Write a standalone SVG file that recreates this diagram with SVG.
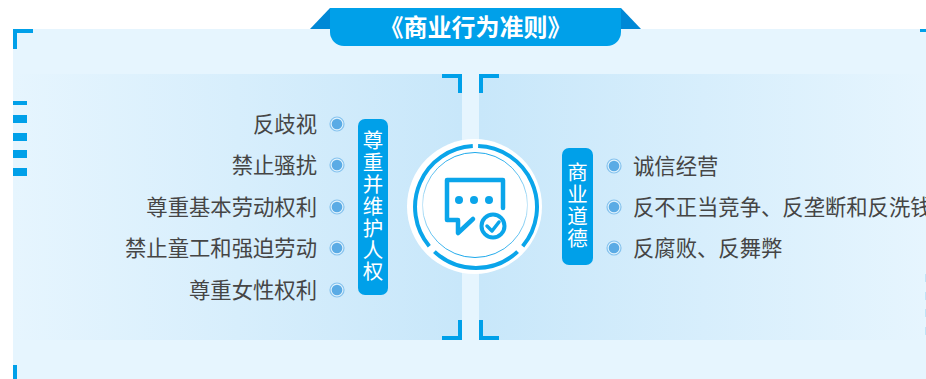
<svg xmlns="http://www.w3.org/2000/svg" width="926" height="379" viewBox="0 0 926 379">
<defs>
<linearGradient id="gl" x1="0" x2="1" y1="0" y2="0"><stop offset="0" stop-color="#e6f5fe"/><stop offset="1" stop-color="#c8e7fa"/></linearGradient>
<linearGradient id="gr" x1="0" x2="1" y1="0" y2="0"><stop offset="0" stop-color="#c8e7fa"/><stop offset="1" stop-color="#e6f5fe"/></linearGradient>
<linearGradient id="gt" x1="0" x2="0" y1="0" y2="1"><stop offset="0" stop-color="#1aa7ea"/><stop offset="0.5" stop-color="#c5e6f8"/><stop offset="1" stop-color="#1aa7ea"/></linearGradient>
<g id="dot"><circle r="7" fill="#ffffff" fill-opacity="0.35" stroke="#86c3ee" stroke-width="1.2"/><circle r="5.300" fill="#5aabe5"/></g>
</defs>
<style>
.t{font-family:"Noto Sans CJK SC","Noto Sans",sans-serif;font-size:21.330px;fill:#454545}
.v{font-family:"Noto Sans CJK SC","Noto Sans",sans-serif;font-size:20.500px;fill:#ffffff;text-anchor:middle}
.b{fill:none;stroke:#00a0e9;stroke-width:4}
.bar{fill:#00a0e9}
.pill{fill:#00a0e9}
</style>
<rect width="926" height="379" fill="#ffffff"/>
<rect x="13" y="29" width="913" height="350" fill="#e6f5fe"/>
<rect x="13" y="74" width="449" height="266" fill="url(#gl)"/>
<rect x="479" y="74" width="447" height="266" fill="url(#gr)"/>
<g id="frame">
<path class="b" d="M15 49V31H33"/>
<path class="b" d="M15 365V379"/>
<path d="M920 29H926V32H920Z" class="bar"/>
<rect class="bar" x="13" y="101" width="14" height="4"/>
<rect class="bar" x="13" y="115" width="14" height="8"/>
<rect class="bar" x="13" y="133" width="14" height="8"/>
<rect class="bar" x="13" y="150" width="14" height="8"/>
<rect class="bar" x="13" y="168" width="14" height="8"/>
<g fill="#bfe3f6">
<rect x="925" y="274" width="1" height="8"/><rect x="925" y="292" width="1" height="8"/><rect x="925" y="309" width="1" height="8"/><rect x="925" y="327" width="1" height="8"/>
</g>
<path class="b" d="M442 76H460V93"/>
<path class="b" d="M499 76H481V93"/>
<path class="b" d="M442 338H460V320"/>
<path class="b" d="M499 338H481V320"/>
</g>
<g id="title">
<path d="M330 8L310 29H330Z" fill="#0088d6"/>
<path d="M621 8L641 29H621Z" fill="#0088d6"/>
<path d="M330 8H621V32A14 14 0 0 1 607 46H344A14 14 0 0 1 330 32Z" fill="#00a0e9"/>
<text x="475.500" y="36" text-anchor="middle" font-family="'Noto Sans CJK SC','Noto Sans',sans-serif" font-size="24" font-weight="700" fill="#ffffff">《商业行为准则》</text>
</g>
<g id="hub">
<circle cx="474.500" cy="206.500" r="67.500" fill="#ffffff"/>
<path d="M478.100 146A61 61 0 0 1 522.700 246.200M517.600 251.600A61 61 0 0 1 434.400 251.600M429.300 246.200A61 61 0 0 1 472.800 146.100" fill="none" stroke="#0aa5ea" stroke-width="4"/>
<circle cx="475" cy="205" r="52.500" fill="none" stroke="url(#gt)" stroke-width="1"/>
<path d="M473 219L458 233V220H447V180H503V208" fill="none" stroke="#0aa5ea" stroke-width="4.500" stroke-linejoin="round" stroke-linecap="round"/>
<circle cx="459" cy="200" r="4" fill="#0aa5ea"/><circle cx="474" cy="200" r="4" fill="#0aa5ea"/><circle cx="489" cy="200" r="4" fill="#0aa5ea"/>
<circle cx="493" cy="226" r="11.500" fill="#ffffff" stroke="#0aa5ea" stroke-width="4"/>
<path d="M487 226L492 231L499 222" fill="none" stroke="#0aa5ea" stroke-width="3.500" stroke-linecap="round" stroke-linejoin="round"/>
</g>
<g id="left-pill">
<rect class="pill" x="358" y="119" width="30" height="176" rx="7"/>
<text class="v"><tspan x="373" y="148">尊</tspan><tspan x="373" y="170">重</tspan><tspan x="373" y="192">并</tspan><tspan x="373" y="214">维</tspan><tspan x="373" y="236">护</tspan><tspan x="373" y="258">人</tspan><tspan x="373" y="279">权</tspan></text>
</g>
<g id="right-pill">
<rect class="pill" x="562" y="148" width="31" height="117" rx="7"/>
<text class="v"><tspan x="577.500" y="180">商</tspan><tspan x="577.500" y="202">业</tspan><tspan x="577.500" y="224">道</tspan><tspan x="577.500" y="246">德</tspan></text>
</g>
<g id="left-items">
<text class="t" x="317" y="132" text-anchor="end">反歧视</text><use href="#dot" x="337" y="124"/>
<text class="t" x="317" y="173" text-anchor="end">禁止骚扰</text><use href="#dot" x="337" y="165"/>
<text class="t" x="317" y="215" text-anchor="end">尊重基本劳动权利</text><use href="#dot" x="337" y="207"/>
<text class="t" x="317" y="256" text-anchor="end">禁止童工和强迫劳动</text><use href="#dot" x="337" y="248"/>
<text class="t" x="317" y="298" text-anchor="end">尊重女性权利</text><use href="#dot" x="337" y="290"/>
</g>
<g id="right-items">
<use href="#dot" x="614" y="166"/><text class="t" x="633" y="174">诚信经营</text>
<use href="#dot" x="614" y="207"/><text class="t" x="633" y="215">反不正当竞争、反垄断和反洗钱</text>
<use href="#dot" x="614" y="248"/><text class="t" x="633" y="256">反腐败、反舞弊</text>
</g>
</svg>
